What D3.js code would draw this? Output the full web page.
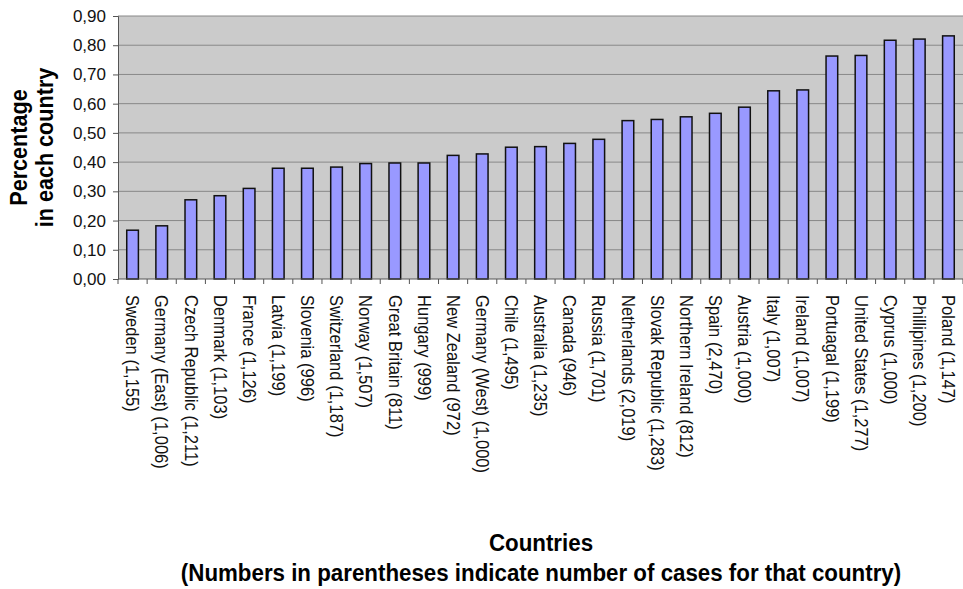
<!DOCTYPE html>
<html>
<head>
<meta charset="utf-8">
<script src="https://cdn.jsdelivr.net/npm/d3@7/dist/d3.min.js"></script>
<style>
  html, body { margin: 0; padding: 0; background: #fff; }
  svg { display: block; font-family: "Liberation Sans", Arial, sans-serif; }
</style>
</head>
<body>
<svg id="chart" width="963" height="589"></svg>
<script>
// Countries, with sample sizes, sorted by share
const countries = [
  "Sweden (1,155)", "Germany (East) (1,006)", "Czech Republic (1,211)", "Denmark (1,103)",
  "France (1,126)", "Latvia (1,199)", "Slovenia (996)", "Switzerland (1,187)",
  "Norway (1,507)", "Great Britain (811)", "Hungary (999)", "New Zealand (972)",
  "Germany (West) (1,000)", "Chile (1,495)", "Australia (1,235)", "Canada (946)",
  "Russia (1,701)", "Netherlands (2,019)", "Slovak Republic (1,283)", "Northern Ireland (812)",
  "Spain (2,470)", "Austria (1,000)", "Italy (1,007)", "Ireland (1,007)",
  "Portuagal (1,199)", "United States (1,277)", "Cyprus (1,000)", "Phillipines (1,200)",
  "Poland (1,147)"
];
const shares = [
  0.167, 0.182, 0.271, 0.285,
  0.310, 0.379, 0.379, 0.383,
  0.395, 0.397, 0.397, 0.423,
  0.428, 0.451, 0.453, 0.464,
  0.478, 0.542, 0.546, 0.555,
  0.567, 0.588, 0.644, 0.647,
  0.763, 0.765, 0.817, 0.821,
  0.832
];
const yTicks = [0, 0.1, 0.2, 0.3, 0.4, 0.5, 0.6, 0.7, 0.8, 0.9];
const yTitle = ["Percentage", "in each country"];
const xTitle = ["Countries", "(Numbers in parentheses indicate number of cases for that country)"];

const svg = d3.select("#chart");
const plotL = 118, plotR = 963, plotT = 16, plotB = 279;

const x = d3.scaleBand().domain(countries).range([plotL, plotR]).paddingInner(0.6).paddingOuter(0.3);
const xb = d3.scaleBand().domain(countries).range([plotL, plotR]);
const y = d3.scaleLinear().domain([0, 0.9]).range([plotB, plotT]);

// plot background
svg.append("rect").attr("x", plotL).attr("y", plotT)
  .attr("width", plotR - plotL).attr("height", plotB - plotT).attr("fill", "#cbcbcb");

// gridlines
svg.append("g").selectAll("line").data(yTicks.filter(d => d > 0)).join("line")
  .attr("x1", plotL).attr("x2", plotR)
  .attr("y1", d => y(d)).attr("y2", d => y(d))
  .attr("stroke", "#888").attr("stroke-width", 1);

// bars
svg.append("g").selectAll("rect").data(countries).join("rect")
  .attr("x", d => x(d))
  .attr("y", (d, i) => y(shares[i]))
  .attr("width", x.bandwidth())
  .attr("height", (d, i) => y(0) - y(shares[i]))
  .attr("fill", "#9999ff")
  .attr("stroke", "#111")
  .attr("stroke-width", 1.5);

// y axis
const yAxis = d3.axisLeft(y).tickValues(yTicks).tickSize(5).tickPadding(7)
  .tickFormat(d => d3.format(".2f")(d).replace(".", ","));
const gy = svg.append("g").attr("transform", `translate(${plotL},0)`).call(yAxis);
gy.select(".domain").attr("stroke", "#555");
gy.selectAll(".tick line").attr("stroke", "#555");
gy.selectAll(".tick text").attr("font-size", 17).attr("fill", "#111")
  .attr("font-family", "Liberation Sans, Arial, sans-serif");

// x axis: ticks at band boundaries
const gx = svg.append("g");
gx.append("line").attr("x1", plotL).attr("x2", plotR).attr("y1", plotB).attr("y2", plotB)
  .attr("stroke", "#555");
gx.selectAll("line.tk").data(countries.concat([null])).join("line").attr("class", "tk")
  .attr("x1", (d, i) => plotL + i * xb.step()).attr("x2", (d, i) => plotL + i * xb.step())
  .attr("y1", plotB).attr("y2", plotB + 5).attr("stroke", "#555");
gx.selectAll("text").data(countries).join("text")
  .attr("transform", d => `translate(${xb(d) + xb.bandwidth() / 2},${plotB + 16}) rotate(90) scale(0.92,1)`)
  .attr("dy", "0.35em")
  .attr("font-size", 18).attr("fill", "#111")
  .text(d => d);

// y title
const yt = svg.append("text")
  .attr("transform", `translate(0,${(plotT + plotB) / 2}) rotate(-90) scale(0.9,1)`)
  .attr("text-anchor", "middle").attr("font-weight", "bold").attr("font-size", 24).attr("fill", "#000");
yt.append("tspan").attr("x", 0).attr("y", 27).text(yTitle[0]);
yt.append("tspan").attr("x", 0).attr("y", 53).text(yTitle[1]);

// x title
const xt = svg.append("text").attr("transform", "translate(541,0) scale(0.95,1)")
  .attr("text-anchor", "middle").attr("font-weight", "bold")
  .attr("font-size", 23.5).attr("fill", "#000");
xt.append("tspan").attr("x", 0).attr("y", 551).text(xTitle[0]);
xt.append("tspan").attr("x", 0).attr("y", 581).text(xTitle[1]);
</script>
</body>
</html>
